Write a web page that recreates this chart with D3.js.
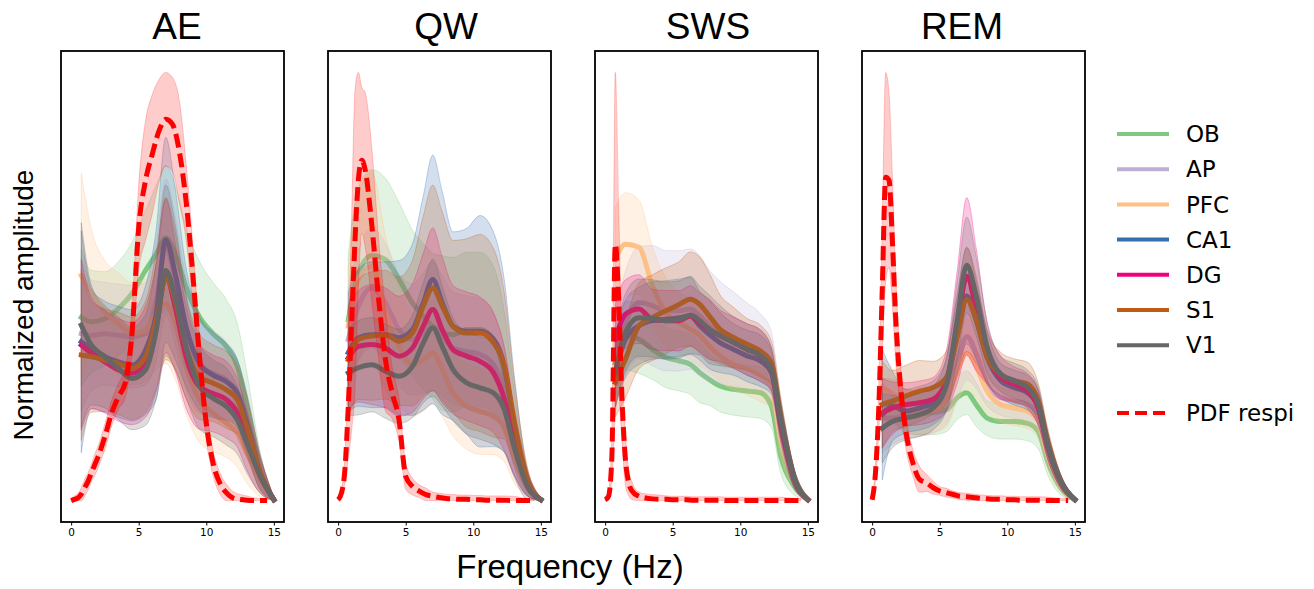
<!DOCTYPE html>
<html><head><meta charset="utf-8">
<script src="https://cdn.jsdelivr.net/npm/d3@7"></script>
<style>body{margin:0;background:#fff} svg{display:block}</style>
</head><body>
<svg id="chart" width="1314" height="589"></svg>
<script>
// ---------- DATA ----------
const states = ["AE", "QW", "SWS", "REM"];
const regions = ["OB", "AP", "PFC", "CA1", "DG", "S1", "V1"];
const regionColors = ["#7fc97f", "#beaed4", "#fdc086", "#386cb0", "#f0027f", "#bf5b17", "#666666"];
const pdfLabel = "PDF respi";
const xTicks = [0, 5, 10, 15];

// frequency grid of the regional amplitude curves (Hz)
const freqs = [0.75, 1.5, 2.5, 3.5, 4.5, 5.5, 6.3, 7, 7.7, 8.5, 9.5, 10.5, 11.5, 12.3, 13, 14, 15];
// frequency grid of the respiration PDF (Hz)
const pdfFreqs = [0, 0.25, 0.5, 0.75, 1, 1.25, 1.5, 1.75, 2, 2.5, 3, 3.5, 4, 4.5, 5, 5.5, 6, 6.5, 7, 7.5, 8, 8.5, 9, 9.5, 10, 10.5, 11, 11.5, 12, 13, 14, 14.5];

// rows in region order: OB, AP, PFC, CA1, DG, S1, V1
const AE_mean = [
  [42.9, 41.9, 42.6, 45.0, 48.5, 53.9, 57.8, 61.5, 57.8, 50.0, 43.0, 39.1, 36.0, 31.4, 22.0, 7.2, 0.2],
  [39.1, 38.7, 39.1, 38.7, 38.4, 39.1, 46.9, 59.4, 51.6, 39.1, 31.4, 29.8, 28.2, 25.1, 18.1, 6.5, 0.2],
  [52.7, 48.5, 44.2, 41.4, 39.1, 39.9, 43.8, 46.1, 41.4, 31.4, 23.6, 20.5, 18.1, 15.8, 11.1, 4.9, 0.2],
  [37.2, 35.6, 33.7, 32.5, 31.7, 35.2, 43.8, 61.1, 53.1, 40.7, 32.1, 29.4, 27.8, 25.1, 18.1, 6.5, 0.2],
  [36.4, 34.5, 32.5, 30.6, 29.8, 32.5, 40.7, 52.7, 45.3, 33.7, 26.7, 25.1, 23.6, 20.5, 14.2, 5.7, 0.2],
  [34.1, 33.7, 32.9, 32.1, 31.0, 33.7, 42.2, 52.0, 46.9, 36.0, 29.0, 27.5, 25.9, 23.6, 17.3, 6.5, 0.2],
  [41.1, 36.4, 33.7, 31.0, 28.6, 30.6, 39.9, 53.9, 47.7, 36.0, 26.7, 24.0, 22.0, 18.9, 13.5, 5.7, 0.2]
];
const AE_sd = [
  [16, 12, 11, 11, 12, 14, 16, 17, 16, 14, 13, 12, 11, 10, 8, 4, 0.5],
  [18, 13, 12, 12, 12, 12, 14, 16, 15, 13, 11, 10, 9, 8, 7, 4, 0.5],
  [24, 15, 12, 12, 12, 12, 13, 14, 13, 11, 10, 9, 8, 8, 7, 4, 0.5],
  [26, 14, 13, 13, 13, 15, 20, 24, 20, 14, 11, 10, 9, 8, 7, 4, 0.5],
  [20, 13, 12, 12, 12, 13, 15, 18, 15, 12, 10, 9, 9, 8, 7, 4, 0.5],
  [20, 13, 12, 12, 12, 13, 16, 19, 16, 12, 10, 9, 9, 8, 7, 4, 0.5],
  [24, 14, 12, 12, 12, 13, 16, 20, 17, 12, 10, 9, 9, 8, 7, 4, 0.5]
];
const AE_pdf = [0, 0.3, 0.6, 1.5, 3.0, 4.5, 6.5, 8.4, 10.3, 15.0, 20.5, 24.4, 27.5, 39.1, 64.0, 74.9, 81.1, 86.6, 89.3, 88.1, 81.9, 70.3, 53.1, 33.7, 18.1, 8.8, 4.1, 1.8, 0.6, 0.1, 0, 0];
const AE_pdfSd = [0.5, 0.8, 1, 1.5, 2, 2, 2, 2.5, 2.5, 3, 3, 3, 3.5, 5, 10, 14, 14, 12, 11, 11, 12, 9, 7, 5, 4, 3, 2.5, 2, 1.5, 1, 0.5, 0.5];

const QW_mean = [
  [42.2, 53.1, 57.2, 56.2, 51.6, 46.1, 43.0, 40.7, 39.1, 38.7, 39.9, 39.9, 37.6, 29.8, 17.3, 4.1, 0.2],
  [37.6, 45.4, 49.6, 46.1, 39.9, 37.6, 39.1, 40.7, 38.4, 35.6, 34.8, 34.1, 31.7, 25.9, 15.0, 4.1, 0.2],
  [40.7, 51.6, 54.7, 43.8, 36.0, 31.7, 32.9, 34.5, 30.6, 25.1, 22.0, 20.8, 19.7, 17.0, 10.3, 3.3, 0.2],
  [34.5, 38.0, 38.7, 38.7, 38.0, 39.9, 46.1, 51.6, 46.1, 40.7, 39.5, 39.5, 37.6, 31.3, 18.1, 4.1, 0.2],
  [33.3, 36.0, 36.4, 35.6, 33.7, 35.6, 40.7, 44.6, 39.9, 35.2, 33.7, 32.5, 29.8, 23.6, 14.2, 4.1, 0.2],
  [32.9, 37.6, 38.4, 38.7, 37.2, 39.1, 45.4, 49.6, 45.4, 40.7, 39.1, 39.1, 36.8, 31.3, 18.9, 4.9, 0.2],
  [29.8, 31.0, 31.7, 30.2, 29.0, 31.3, 36.8, 40.3, 36.0, 30.6, 27.5, 26.3, 25.1, 21.2, 12.7, 3.3, 0.2]
];
const QW_sd = [
  [15, 20, 20, 19, 18, 17, 17, 17, 18, 18, 18, 18, 17, 14, 9, 3, 0.5],
  [12, 13, 14, 14, 13, 13, 14, 15, 14, 13, 13, 13, 12, 10, 7, 3, 0.5],
  [14, 20, 22, 18, 14, 12, 12, 12, 11, 10, 10, 10, 9, 8, 6, 2, 0.5],
  [14, 16, 17, 17, 18, 20, 25, 29, 26, 22, 24, 27, 25, 20, 12, 3, 0.5],
  [12, 13, 14, 14, 14, 15, 17, 19, 17, 15, 15, 15, 14, 12, 8, 3, 0.5],
  [13, 14, 15, 15, 15, 17, 21, 24, 22, 20, 22, 23, 22, 17, 10, 3, 0.5],
  [10, 11, 11, 11, 11, 12, 14, 16, 14, 12, 12, 12, 12, 10, 7, 3, 0.5]
];
const QW_pdf = [0.2, 1.8, 7.2, 22.0, 41.4, 60.9, 74.9, 79.4, 77.2, 64.0, 46.9, 32.9, 25.1, 18.9, 5.7, 3.3, 2.2, 1.4, 1.0, 0.7, 0.5, 0.4, 0.3, 0.3, 0.2, 0.2, 0.1, 0.1, 0.1, 0, 0, 0];
const QW_pdfSd = [0.5, 1, 3, 12, 25, 35, 25, 17, 18, 18, 14, 12, 6, 5, 3, 2, 1.5, 1.5, 1, 1, 1, 1, 1, 1, 1, 1, 1, 1, 1, 1, 0.5, 0.5];

const SWS_mean = [
  [32.1, 38.4, 37.6, 35.2, 33.3, 32.5, 31.7, 29.8, 28.2, 26.7, 25.9, 25.5, 25.1, 22.0, 10.3, 3.3, 0.2],
  [33.7, 41.4, 46.1, 45.4, 44.2, 44.2, 44.6, 43.0, 40.7, 39.1, 37.6, 36.0, 34.5, 31.3, 18.9, 5.3, 0.2],
  [56.2, 59.7, 59.0, 50.0, 43.8, 41.4, 39.9, 38.4, 36.0, 33.7, 31.7, 30.6, 29.0, 26.7, 14.2, 4.9, 0.2],
  [29.8, 37.6, 40.7, 41.9, 42.2, 42.6, 43.0, 40.7, 38.7, 36.8, 35.2, 33.7, 32.5, 29.8, 17.3, 4.9, 0.2],
  [37.6, 43.4, 44.6, 42.2, 41.9, 41.9, 43.0, 41.4, 39.9, 38.4, 36.8, 35.2, 33.7, 30.6, 18.1, 4.9, 0.2],
  [27.5, 32.9, 40.7, 42.6, 44.2, 45.7, 46.9, 45.7, 43.0, 39.9, 38.0, 36.4, 34.8, 32.1, 19.7, 5.3, 0.2],
  [29.8, 39.1, 42.6, 42.4, 41.9, 42.2, 43.2, 41.9, 39.9, 38.4, 36.8, 35.2, 33.7, 30.6, 18.9, 5.3, 0.2]
];
const SWS_sd = [
  [8, 8, 8, 7, 7, 7, 7, 7, 6, 6, 6, 6, 6, 5, 4, 2, 0.5],
  [10, 12, 13, 14, 14, 14, 14, 14, 13, 12, 11, 10, 9, 8, 5, 2, 0.5],
  [12, 12, 11, 9, 8, 7, 7, 7, 6, 6, 6, 6, 6, 5, 4, 2, 0.5],
  [8, 9, 9, 9, 9, 9, 9, 8, 8, 7, 6, 6, 6, 5, 4, 2, 0.5],
  [8, 8, 8, 7, 7, 7, 7, 7, 7, 6, 6, 6, 6, 5, 4, 2, 0.5],
  [8, 9, 10, 10, 10, 10, 11, 11, 10, 8, 7, 6, 6, 5, 4, 2, 0.5],
  [8, 9, 9, 9, 9, 9, 9, 8, 8, 7, 6, 6, 6, 5, 4, 2, 0.5]
];
const SWS_pdf = [0.2, 1.0, 10.3, 59.7, 46.9, 23.6, 9.6, 4.1, 2.2, 1.0, 0.6, 0.4, 0.3, 0.3, 0.2, 0.2, 0.2, 0.1, 0.1, 0.1, 0.1, 0.1, 0, 0, 0, 0, 0, 0, 0, 0, 0, 0];
const SWS_pdfSd = [0.3, 1, 5, 40, 22, 10, 6, 3, 2, 1, 1, 1, 1, 0.8, 0.8, 0.8, 0.8, 0.8, 0.8, 0.8, 0.8, 0.8, 0.8, 0.8, 0.8, 0.8, 0.8, 0.8, 0.8, 0.8, 0.5, 0.5];

const REM_mean = [
  [22.0, 22.8, 20.5, 20.1, 20.1, 20.8, 23.6, 24.7, 22.0, 18.9, 18.1, 18.1, 17.7, 15.8, 8.8, 2.7, 0.2],
  [18.9, 18.9, 19.3, 19.7, 20.5, 23.6, 31.3, 37.6, 33.7, 26.7, 23.6, 22.8, 22.0, 19.7, 11.9, 3.5, 0.2],
  [25.9, 24.4, 20.5, 20.1, 20.5, 22.8, 29.8, 33.7, 30.6, 25.1, 22.0, 21.2, 20.5, 18.1, 10.3, 3.3, 0.2],
  [19.7, 21.6, 20.5, 21.2, 22.4, 26.7, 38.4, 46.9, 41.4, 32.9, 27.5, 25.9, 24.7, 21.2, 12.3, 4.1, 0.2],
  [20.1, 21.2, 22.0, 22.4, 23.2, 27.5, 39.9, 51.4, 43.8, 33.7, 28.2, 26.7, 25.1, 21.2, 12.3, 4.1, 0.2],
  [22.0, 22.8, 24.0, 25.1, 25.9, 28.2, 37.6, 46.1, 41.4, 32.9, 29.0, 27.5, 26.7, 22.8, 13.5, 4.1, 0.2],
  [16.6, 18.1, 18.9, 19.7, 21.2, 26.7, 41.4, 53.9, 46.9, 35.2, 29.0, 27.5, 25.9, 22.0, 12.7, 4.1, 0.2]
];
const REM_sd = [
  [6, 5, 5, 5, 5, 5, 5, 5, 5, 4, 4, 4, 4, 4, 3, 1.5, 0.5],
  [8, 6, 5, 5, 5, 6, 8, 10, 8, 5, 4, 4, 4, 4, 3, 1.5, 0.5],
  [7, 6, 5, 5, 5, 6, 7, 8, 7, 5, 4, 4, 4, 4, 3, 1.5, 0.5],
  [15, 8, 5, 5, 5, 6, 9, 11, 9, 6, 4, 4, 4, 4, 3, 1.5, 0.5],
  [8, 6, 5, 5, 5, 7, 13, 18, 14, 7, 5, 4, 4, 4, 3, 1.5, 0.5],
  [10, 7, 7, 7, 6, 6, 9, 12, 10, 6, 5, 5, 5, 4, 3, 1.5, 0.5],
  [8, 6, 5, 5, 5, 6, 9, 11, 9, 6, 4, 4, 4, 4, 3, 1.5, 0.5]
];
const REM_pdf = [0.2, 6.5, 22.0, 48.5, 74.1, 73.4, 59.4, 41.4, 29.8, 15.8, 8.8, 4.9, 4.1, 3.0, 2.2, 1.8, 1.4, 1.0, 0.9, 0.7, 0.5, 0.4, 0.3, 0.3, 0.2, 0.2, 0.1, 0.1, 0.1, 0, 0, 0];
const REM_pdfSd = [0.3, 2, 6, 15, 24, 20, 15, 10, 6, 4, 3, 3, 2, 1.5, 1, 1, 0.8, 0.8, 0.8, 0.8, 0.8, 0.8, 0.8, 0.8, 0.8, 0.8, 0.8, 0.8, 0.8, 0.8, 0.5, 0.5];

const meanSets = [AE_mean, QW_mean, SWS_mean, REM_mean];
const sdSets = [AE_sd, QW_sd, SWS_sd, REM_sd];
const pdfSets = [AE_pdf, QW_pdf, SWS_pdf, REM_pdf];
const pdfSdSets = [AE_pdfSd, QW_pdfSd, SWS_pdfSd, REM_pdfSd];

// ---------- LAYOUT ----------
const svg = d3.select("#chart");
const panelLeft = [61, 328, 595, 862];
const titleX = [177, 446, 708, 962];
const panelW = 223, plotTop = 51, plotBottom = 522;
const titleFont = "'Liberation Sans', Arial, sans-serif";
const tickFont = "'DejaVu Sans', sans-serif";
const defs = svg.append("defs");

states.forEach((st, k) => {
  const L = panelLeft[k];
  const x = d3.scaleLinear().domain([-0.75, 15.75]).range([L, L + panelW]);
  const means = meanSets[k], sds = sdSets[k], pdf = pdfSets[k], pdfSd = pdfSdSets[k];
  const ups = [];
  means.forEach((row, i) => row.forEach((m, j) => ups.push(m + sds[i][j])));
  pdf.forEach((m, j) => ups.push(m + pdfSd[j]));
  const hi = d3.max(ups), lo = 0;
  const r = hi - lo;
  const y = d3.scaleLinear().domain([lo - 0.05 * r, hi + 0.05 * r]).range([plotBottom, plotTop]);

  defs.append("clipPath").attr("id", "clip" + k)
    .append("rect").attr("x", L).attr("y", plotTop).attr("width", panelW).attr("height", plotBottom - plotTop);

  const g = svg.append("g").attr("clip-path", `url(#clip${k})`);
  const curve = d3.curveMonotoneX;
  const area = d3.area().curve(curve).x(d => x(d.f)).y0(d => y(Math.max(0, d.m - d.s))).y1(d => y(d.m + d.s));
  const line = d3.line().curve(curve).x(d => x(d.f)).y(d => y(d.m));

  regions.forEach((reg, i) => {
    const pts = freqs.map((f, j) => ({ f, m: means[i][j], s: sds[i][j] }));
    g.append("path").datum(pts).attr("d", area)
      .attr("fill", regionColors[i]).attr("fill-opacity", 0.22)
      .attr("stroke", regionColors[i]).attr("stroke-opacity", 0.3).attr("stroke-width", 1);
    g.append("path").datum(pts).attr("d", line)
      .attr("fill", "none").attr("stroke", regionColors[i]).attr("stroke-width", 5)
      .attr("stroke-linejoin", "round").attr("stroke-linecap", "square");
  });

  const pp = pdfFreqs.map((f, j) => ({ f, m: pdf[j], s: pdfSd[j] }));
  g.append("path").datum(pp).attr("d", area)
    .attr("fill", "#ff0000").attr("fill-opacity", 0.2)
    .attr("stroke", "#ff0000").attr("stroke-opacity", 0.2).attr("stroke-width", 1);
  g.append("path").datum(pp).attr("d", line)
    .attr("fill", "none").attr("stroke", "#ff0000").attr("stroke-width", 5)
    .attr("stroke-dasharray", "14,6").attr("stroke-linejoin", "round");

  // frame
  svg.append("rect").attr("x", L).attr("y", plotTop).attr("width", panelW).attr("height", plotBottom - plotTop)
    .attr("fill", "none").attr("stroke", "#000").attr("stroke-width", 1.8);

  // x axis
  const ax = svg.append("g").attr("transform", `translate(0,${plotBottom})`)
    .call(d3.axisBottom(x).tickValues(xTicks).tickSize(3.5).tickPadding(3).tickFormat(d3.format("d")));
  ax.select(".domain").remove();
  ax.selectAll(".tick line").attr("stroke", "#000").attr("stroke-width", 1);
  ax.selectAll(".tick text").attr("fill", "#000").style("font-family", tickFont).style("font-size", "10.5px");

  // title
  svg.append("text").attr("x", titleX[k]).attr("y", 39).attr("text-anchor", "middle")
    .style("font-family", titleFont).style("font-size", "37px").attr("fill", "#000").text(st);
});

// axis labels
svg.append("text").attr("x", 570).attr("y", 578).attr("text-anchor", "middle")
  .style("font-family", titleFont).style("font-size", "33px").attr("fill", "#000").text("Frequency (Hz)");
svg.append("text").attr("transform", "translate(33,305) rotate(-90)").attr("text-anchor", "middle")
  .style("font-family", titleFont).style("font-size", "28px").attr("fill", "#000").text("Normalized amplitude");

// legend
const legendFont = "'DejaVu Sans', sans-serif";
const lg = svg.append("g");
regions.forEach((reg, i) => {
  const yy = 134 + i * 35.2;
  lg.append("line").attr("x1", 1117).attr("x2", 1169).attr("y1", yy).attr("y2", yy)
    .attr("stroke", regionColors[i]).attr("stroke-width", 4);
  lg.append("text").attr("x", 1186).attr("y", yy).attr("dy", "0.36em")
    .style("font-family", legendFont).style("font-size", "23px").attr("fill", "#000").text(reg);
});
lg.append("line").attr("x1", 1117).attr("x2", 1169).attr("y1", 413).attr("y2", 413)
  .attr("stroke", "#ff0000").attr("stroke-width", 4).attr("stroke-dasharray", "12,6");
lg.append("text").attr("x", 1186).attr("y", 413).attr("dy", "0.36em")
  .style("font-family", legendFont).style("font-size", "23px").attr("fill", "#000").text(pdfLabel);
</script>
</body></html>
